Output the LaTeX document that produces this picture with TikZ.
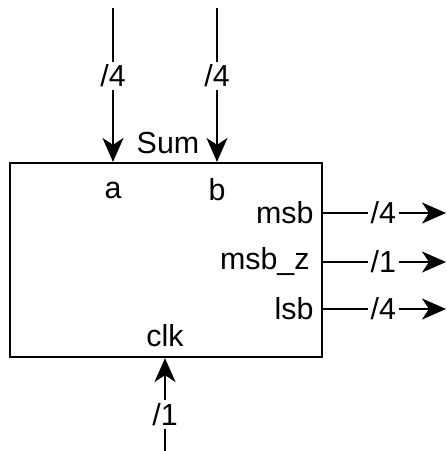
\documentclass[tikz,border=0pt]{standalone}
\usepackage{fontspec}
\setmainfont{Liberation Sans}
\usetikzlibrary{arrows.meta,positioning}
\tikzset{
  block/.style={draw, line width=1.1pt, minimum width=156pt, minimum height=97pt, inner sep=0pt},
  port/.style={inner sep=2pt},
  bus/.style={fill=white, inner sep=1.5pt},
  arrow/.style={-{Stealth[length=12pt,width=10.5pt,inset=3.5pt]}, line width=1.1pt}
}
\begin{document}
\begin{tikzpicture}[x=0.5pt, y=-0.5pt, every node/.style={font=\fontsize{15.2}{18}\selectfont}]
  \useasboundingbox (0,0) rectangle (446,451);
  \node[block] (sum) at (166,260) {};
  \node (title) at (168,143) {Sum};
  \node[port] (a) at (113,190) {a};
  \node[port] (b) at (217,190) {b};
  \node[port, anchor=east] (msb) at (318,213) {msb};
  \node[port, anchor=east] (msbz) at (314,262) {msb\_z};
  \node[port, anchor=east] (lsb) at (318,309) {lsb};
  \node[port] (clk) at (165,336) {clk};

  % free ends of the buses
  \coordinate (inA) at (113,8);
  \coordinate (inB) at (217,8);
  \coordinate (inClk) at (165,452);
  \coordinate (outMsb) at (446,213);
  \coordinate (outMsbz) at (446,262);
  \coordinate (outLsb) at (446,309);

  \foreach \s/\w in {inA/4,inB/4}
    \draw[arrow] (\s) -- node[bus, pos=0.44] {/\w} (\s |- sum.north);
  \foreach \p/\e/\w in {msb/outMsb/4,msbz/outMsbz/1,lsb/outLsb/4}
    \draw[arrow] (sum.east |- \p) -- node[bus, pos=0.49] {/\w} (\e);
  \draw[arrow] (inClk) -- node[bus, pos=0.4] {/1} (inClk |- sum.south);
\end{tikzpicture}
\end{document}
